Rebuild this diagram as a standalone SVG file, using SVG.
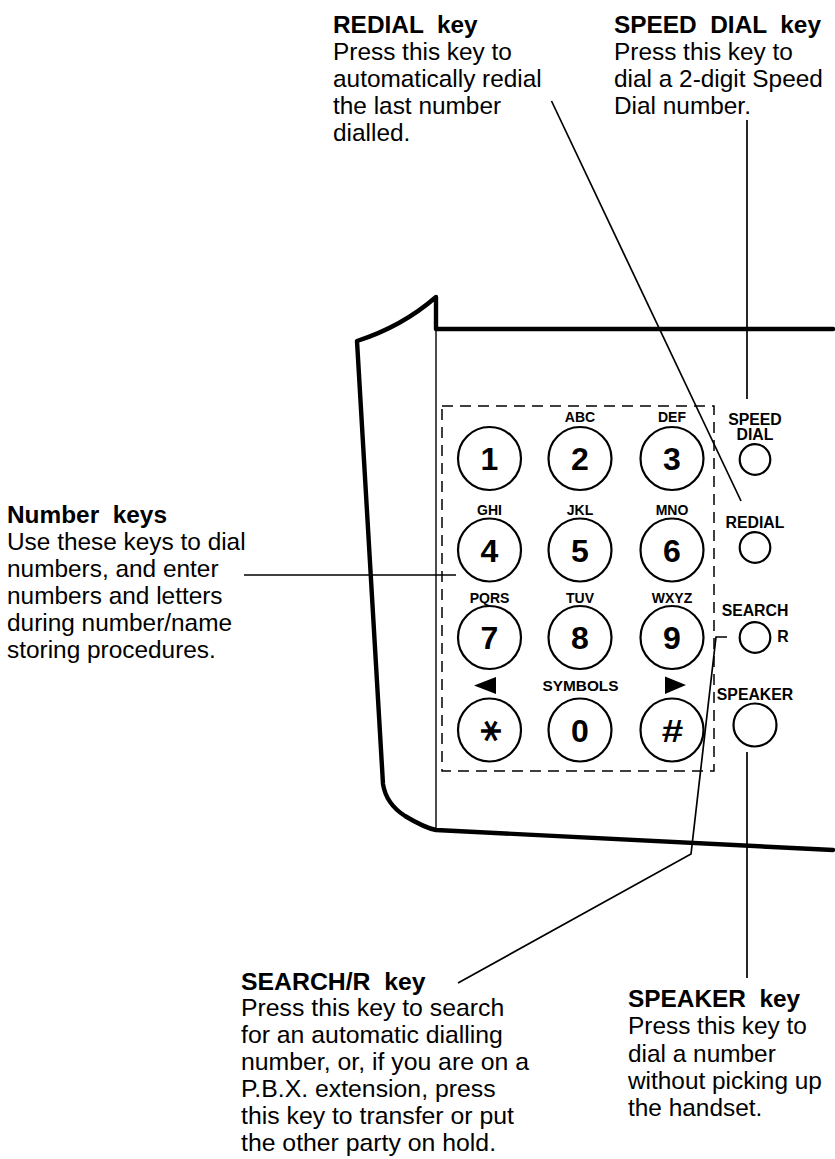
<svg xmlns="http://www.w3.org/2000/svg" width="835" height="1159" viewBox="0 0 835 1159">
<style>
text{font-family:"Liberation Sans",Arial,sans-serif;fill:#000}
.t{font-size:24.400px}
.h{font-size:24.400px;font-weight:bold;white-space:pre}
.num{font-size:32px;font-weight:bold;text-anchor:middle}
.sm{font-size:14px;font-weight:bold;text-anchor:middle}
.btn{font-size:15.800px;font-weight:bold;text-anchor:middle}
.key{fill:#fff;stroke:#000;stroke-width:2.2}
.body{fill:none;stroke:#000;stroke-width:4.400;stroke-linecap:round;stroke-linejoin:round}
.thin{fill:none;stroke:#000;stroke-width:1.400}
.lead{fill:none;stroke:#000;stroke-width:1.700}
#label-search text{font-size:24.800px}
</style>
<g id="body">
<path class="body" d="M833 329H436V297C413 317 385 332 357 341L383 784C385 797 391 807 405 816C415 822 425 828 436 830L833 850"/>
<path class="thin" d="M436 329V830"/>
<rect class="thin" x="442" y="406" width="272" height="365" stroke-dasharray="11 7" style="stroke-width:1.500"/>
</g>
<g id="connectors">
<path class="lead" d="M244 575H456"/>
<path class="lead" d="M551.500 101L741 501"/>
<path class="lead" d="M747 120V399"/>
<path class="lead" d="M727 637H716L691 854L458 983"/>
<path class="lead" d="M747 752V978"/>
</g>
<g id="key-1"><circle class="key" cx="489.500" cy="458.500" r="31.500"/><text class="num" x="489.500" y="470">1</text></g>
<g id="key-2"><circle class="key" cx="580" cy="458.500" r="31.500"/><text class="sm" x="580" y="422">ABC</text><text class="num" x="580" y="470">2</text></g>
<g id="key-3"><circle class="key" cx="672" cy="458.500" r="31.500"/><text class="sm" x="672" y="422">DEF</text><text class="num" x="672" y="470">3</text></g>
<g id="key-4"><circle class="key" cx="489.500" cy="550" r="31.500"/><text class="sm" x="489.500" y="514.500">GHI</text><text class="num" x="489.500" y="561.500">4</text></g>
<g id="key-5"><circle class="key" cx="580" cy="550" r="31.500"/><text class="sm" x="580" y="514.500">JKL</text><text class="num" x="580" y="561.500">5</text></g>
<g id="key-6"><circle class="key" cx="672" cy="550" r="31.500"/><text class="sm" x="672" y="514.500">MNO</text><text class="num" x="672" y="561.500">6</text></g>
<g id="key-7"><circle class="key" cx="489.500" cy="637.500" r="31.500"/><text class="sm" x="489.500" y="602.500">PQRS</text><text class="num" x="489.500" y="649">7</text></g>
<g id="key-8"><circle class="key" cx="580" cy="637.500" r="31.500"/><text class="sm" x="580" y="602.500">TUV</text><text class="num" x="580" y="649">8</text></g>
<g id="key-9"><circle class="key" cx="672" cy="637.500" r="31.500"/><text class="sm" x="672" y="602.500">WXYZ</text><text class="num" x="672" y="649">9</text></g>
<g id="key-star"><circle class="key" cx="489.500" cy="730" r="31.500"/><path d="M474 685.500L496 677V694Z"/><text transform="translate(489.500 731) rotate(90) translate(0 21)" style="font-family:'DejaVu Sans',sans-serif;font-size:42px;font-weight:bold;text-anchor:middle">*</text></g>
<g id="key-0"><circle class="key" cx="580" cy="730" r="31.500"/><text class="sm" x="580.500" y="691" style="font-size:15.400px">SYMBOLS</text><text class="num" x="580" y="741.500">0</text></g>
<g id="key-hash"><circle class="key" cx="672" cy="730" r="31.500"/><path d="M665 676.500V694L686 685Z"/><text class="num" transform="translate(672.500 742) scale(1.250 1)" style="font-size:31px">#</text></g>
<g id="speed-dial"><circle class="key" cx="755" cy="459.500" r="15.300"/><text class="btn" x="755" y="425">SPEED</text><text class="btn" x="755" y="440">DIAL</text></g>
<g id="redial"><circle class="key" cx="755" cy="547.500" r="15.300"/><text class="btn" x="755" y="527.500">REDIAL</text></g>
<g id="search"><circle class="key" cx="755" cy="637.500" r="15.300"/><text class="btn" x="755" y="615.500">SEARCH</text><text class="btn" x="783" y="641.500">R</text></g>
<g id="speaker"><circle class="key" cx="755" cy="725" r="21.500"/><text class="btn" x="755" y="699.500">SPEAKER</text></g>
<g id="label-redial"><text class="h" x="333" y="33">REDIAL  key</text><text class="t" x="333" y="60">Press this key to</text><text class="t" x="333" y="87">automatically redial</text><text class="t" x="333" y="114">the last number</text><text class="t" x="333" y="141">dialled.</text></g>
<g id="label-speed"><text class="h" x="614" y="33">SPEED  DIAL  key</text><text class="t" x="614" y="60">Press this key to</text><text class="t" x="614" y="87">dial a 2-digit Speed</text><text class="t" x="614" y="114">Dial number.</text></g>
<g id="label-number"><text class="h" x="7" y="523">Number  keys</text><text class="t" x="7" y="550">Use these keys to dial</text><text class="t" x="7" y="577">numbers, and enter</text><text class="t" x="7" y="604">numbers and letters</text><text class="t" x="7" y="631">during number/name</text><text class="t" x="7" y="658">storing procedures.</text></g>
<g id="label-search"><text class="h" x="241" y="990">SEARCH/R  key</text><text class="t" x="241" y="1016">Press this key to search</text><text class="t" x="241" y="1043">for an automatic dialling</text><text class="t" x="241" y="1070">number, or, if you are on a</text><text class="t" x="241" y="1097">P.B.X. extension, press</text><text class="t" x="241" y="1124">this key to transfer or put</text><text class="t" x="241" y="1151">the other party on hold.</text></g>
<g id="label-speaker"><text class="h" x="628" y="1007">SPEAKER  key</text><text class="t" x="628" y="1034">Press this key to</text><text class="t" x="628" y="1062">dial a number</text><text class="t" x="628" y="1089">without picking up</text><text class="t" x="628" y="1116">the handset.</text></g>
</svg>
